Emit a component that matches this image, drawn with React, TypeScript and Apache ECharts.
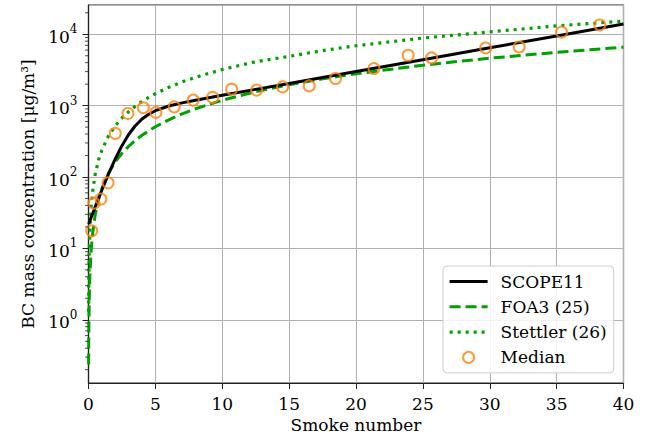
import React, { useEffect, useRef } from "react";
import * as echarts from "echarts";

// Smoke-number grid on which the correlation curves were read
const smokeGrid = [0.01, 0.02, 0.05, 0.1, 0.2, 0.3, 0.5, 0.75, 1, 1.5, 2, 2.5, 3, 3.5, 4, 4.5, 5, 6, 7, 8, 10, 12.5, 15, 17.5, 20, 25, 30, 35, 40];
const scope11 = [21.9, 22.2, 22.9, 24.3, 27.2, 30.4, 38.1, 50.2, 65.8, 110.7, 179, 275, 394, 523, 649, 758, 849, 987, 1094, 1191, 1394, 1689, 2046, 2478, 3000, 4401, 6454, 9467, 13883];
const foa3 = [0.236, 0.556, 1.72, 4.05, 9.5, 15.7, 29.5, 48.7, 69.4, 114, 163, 215, 269, 326, 384, 444, 506, 633, 766, 903, 1190, 1566, 1962, 2372, 2797, 3690, 4620, 5580, 6590];
const stettler = [1.3, 2.9, 8.1, 17.8, 39, 61, 109, 173, 239, 378, 522, 672, 825, 982, 1141, 1304, 1468, 1804, 2146, 2495, 3210, 4127, 4900, 5900, 6900, 8850, 10800, 13100, 15300];

// Median measurements
const medianSN = [0.24, 0.41, 0.93, 1.46, 2.0, 2.95, 4.1, 5.04, 6.41, 7.83, 9.28, 10.7, 12.57, 14.51, 16.5, 18.47, 21.34, 23.9, 25.65, 29.7, 32.2, 35.37, 38.23];
const medianBC = [17.6, 43, 49, 83, 408, 776, 935, 803, 960, 1195, 1303, 1700, 1650, 1830, 1890, 2400, 3310, 5080, 4660, 6430, 6640, 10700, 13500];

const lineNames = ["SCOPE11", "FOA3 (25)", "Stettler (26)"];
const pointName = "Median";
const xTicks = [0, 5, 10, 15, 20, 25, 30, 35, 40];
const minorDecades = [0.1, 1, 10, 100, 1000, 10000];
const minorMultipliers = [2, 3, 4, 5, 6, 7, 8, 9];

const FONT = "DejaVu Serif";
const GREEN = "#00a000";
const ORANGE = "#ff7f0e";

export default function App() {
  const ref = useRef<HTMLDivElement>(null);
  useEffect(() => {
    if (!ref.current) return;
    const chart = echarts.init(ref.current, undefined, { renderer: "svg" });
    const yMin = 0.13;
    const yMax = 25700;
    const minorTicks: number[] = [];
    minorDecades.forEach((d) =>
      minorMultipliers.forEach((m) => {
        const v = d * m;
        if (v > yMin && v < yMax) minorTicks.push(v);
      })
    );
    const pair = (xs: number[], ys: number[]) => xs.map((x, i) => [x, ys[i]]);
    const legendLine = [
      { color: "#000", width: 3, type: "solid" },
      { color: GREEN, width: 3, type: [11, 5] },
      { color: GREEN, width: 3.2, type: [3, 5] },
    ];
    chart.setOption({
      animation: false,
      backgroundColor: "#fff",
      grid: {
        left: 88.5,
        right: 27.5,
        top: 5,
        bottom: 57,
        show: true,
        borderColor: "#222",
        borderWidth: 1.2,
        backgroundColor: "transparent",
      },
      legend: {
        orient: "vertical",
        left: 443,
        top: 266,
        data: [
          ...lineNames.map((n, i) => ({
            name: n,
            itemStyle: { color: "rgba(0,0,0,0)", borderWidth: 0, opacity: 0 },
            lineStyle: legendLine[i],
          })),
          { name: pointName },
        ],
        backgroundColor: "rgba(255,255,255,0.85)",
        borderColor: "#ccc",
        borderWidth: 1,
        borderRadius: 4,
        padding: [7, 7, 7, 5],
        itemGap: 8.3,
        itemWidth: 38,
        itemHeight: 11,
        textStyle: { fontFamily: FONT, fontSize: 17, color: "#000", lineHeight: 17, padding: [0, 0, 0, 8] },
      },
      xAxis: {
        type: "value",
        min: 0,
        max: 40,
        interval: 5,
        name: "Smoke number",
        nameLocation: "middle",
        nameGap: 33,
        nameTextStyle: { fontFamily: FONT, fontSize: 17, color: "#000" },
        axisLine: { show: true, onZero: false, lineStyle: { color: "#222", width: 1.2 } },
        axisTick: { show: true, inside: false, length: 6, lineStyle: { color: "#222", width: 1 } },
        axisLabel: {
          fontFamily: FONT,
          fontSize: 17,
          color: "#000",
          margin: 12,
          formatter: (v: number) => (xTicks.includes(v) ? String(v) : ""),
        },
        splitLine: { show: true, lineStyle: { color: "#b0b0b0", width: 1 } },
      },
      yAxis: {
        type: "log",
        logBase: 10,
        min: yMin,
        max: yMax,
        splitNumber: 5,
        name: "BC mass concentration [μg/m³]",
        nameLocation: "middle",
        nameGap: 52,
        nameTextStyle: { fontFamily: FONT, fontSize: 17, color: "#000" },
        axisLine: { show: true, onZero: false, lineStyle: { color: "#222", width: 1.2 } },
        axisTick: { show: true, inside: false, length: 6, lineStyle: { color: "#222", width: 1 } },
        axisLabel: {
          margin: 11,
          showMinLabel: false,
          showMaxLabel: false,
          formatter: (v: number) => {
            const e = Math.log10(v);
            const r = Math.round(e);
            if (Math.abs(e - r) > 1e-6) return "";
            return `{base|10}{sup|${r}}`;
          },
          rich: {
            base: { fontFamily: FONT, fontSize: 17, color: "#000", lineHeight: 22, verticalAlign: "bottom" },
            sup: { fontFamily: FONT, fontSize: 12, color: "#000", lineHeight: 22, verticalAlign: "top" },
          },
        },
        splitLine: { show: true, lineStyle: { color: "#b0b0b0", width: 1 } },
      },
      series: [
        {
          name: lineNames[0],
          type: "line",
          data: pair(smokeGrid, scope11),
          showSymbol: false,
          symbol: "none",
          lineStyle: { color: "#000", width: 3 },
          itemStyle: { color: "#000" },
          z: 4,
        },
        {
          name: lineNames[1],
          type: "line",
          data: pair(smokeGrid, foa3),
          showSymbol: false,
          symbol: "none",
          lineStyle: { color: GREEN, width: 3, type: [11, 5] },
          itemStyle: { color: GREEN },
          z: 3,
        },
        {
          name: lineNames[2],
          type: "line",
          data: pair(smokeGrid, stettler),
          showSymbol: false,
          symbol: "none",
          lineStyle: { color: GREEN, width: 3.2, type: [3, 5] },
          itemStyle: { color: GREEN },
          z: 3,
        },
        {
          name: pointName,
          type: "scatter",
          data: pair(medianSN, medianBC),
          symbol: "circle",
          symbolSize: 11,
          itemStyle: { color: "rgba(0,0,0,0)", borderColor: ORANGE, borderWidth: 2 },
          z: 5,
        },
        {
          name: "minorTicks",
          type: "custom",
          data: minorTicks.map((v) => [0, v]),
          silent: true,
          clip: false,
          z: 6,
          renderItem: (_p: any, api: any) => {
            const pt = api.coord([0, api.value(1)]);
            return {
              type: "line",
              shape: { x1: pt[0] - 3.5, y1: pt[1], x2: pt[0], y2: pt[1] },
              style: { stroke: "#222", lineWidth: 0.8 },
            };
          },
        },
      ],
    });
    return () => chart.dispose();
  }, []);
  return <div ref={ref} style={{ width: 651, height: 440, position: "absolute", left: 0, top: 0 }} />;
}
